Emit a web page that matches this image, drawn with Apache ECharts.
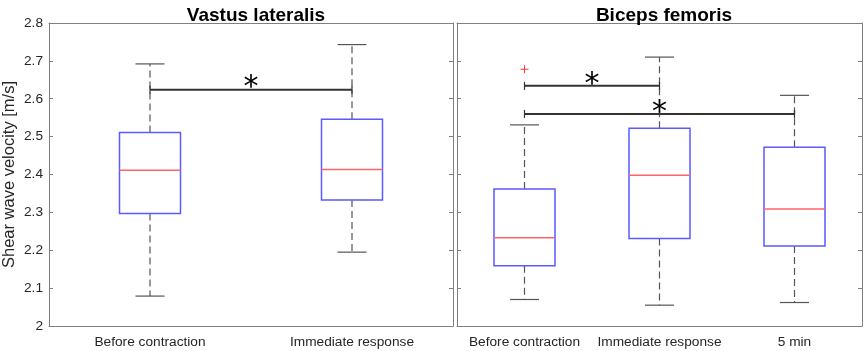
<!DOCTYPE html>
<html>
<head>
<meta charset="utf-8">
<script src="https://cdn.jsdelivr.net/npm/echarts@6/dist/echarts.min.js"></script>
<style>
  html, body { margin: 0; padding: 0; background: #fff; }
  #chart { width: 865px; height: 351px; }
</style>
</head>
<body>
<div id="chart"></div>
<script>
// 数据：最小值, 下四分位, 中位数, 上四分位, 最大值
const vlCategories = ['Before contraction', 'Immediate response'];
const vlBoxes = [
  [2.079, 2.297, 2.411, 2.511, 2.692],
  [2.195, 2.333, 2.413, 2.546, 2.743]
];
const vlSig = [[0, 1, 2.624]];

const bfCategories = ['Before contraction', 'Immediate response', '5 min'];
const bfBoxes = [
  [2.070, 2.159, 2.233, 2.362, 2.531],
  [2.055, 2.231, 2.398, 2.522, 2.710],
  [2.062, 2.211, 2.309, 2.472, 2.609]
];
const bfOutliers = [[0, 2.678]];
const bfSig = [[0, 1, 2.634], [0, 2, 2.560]];

const yMin = 2;
const yMax = 2.8;
const yStep = 0.1;

const axisColor = '#808080';
const textColor = '#262626';
const boxHalf = 30.5;
const capHalf = 14.5;

const chart = echarts.init(document.getElementById('chart'));

// 箱线图：蓝色箱体、红色中位线、灰色虚线须
function renderBox(params, api) {
  const cat = api.value(0);
  const x = api.coord([cat, api.value(3)])[0];
  const yLo = api.coord([cat, api.value(1)])[1];
  const yQ1 = api.coord([cat, api.value(2)])[1];
  const yMed = api.coord([cat, api.value(3)])[1];
  const yQ3 = api.coord([cat, api.value(4)])[1];
  const yHi = api.coord([cat, api.value(5)])[1];
  const whisker = {stroke: '#555', lineWidth: 1.2, lineDash: [7, 4]};
  const cap = {stroke: '#555', lineWidth: 1.2};
  return {
    type: 'group',
    children: [
      {type: 'line', shape: {x1: x, y1: yQ3, x2: x, y2: yHi}, style: whisker},
      {type: 'line', shape: {x1: x, y1: yQ1, x2: x, y2: yLo}, style: whisker},
      {type: 'line', shape: {x1: x - capHalf, y1: yHi, x2: x + capHalf, y2: yHi}, style: cap},
      {type: 'line', shape: {x1: x - capHalf, y1: yLo, x2: x + capHalf, y2: yLo}, style: cap},
      {type: 'rect', shape: {x: x - boxHalf, y: yQ3, width: boxHalf * 2, height: yQ1 - yQ3},
        style: {fill: '#fff', stroke: '#5a5aff', lineWidth: 1.5}},
      {type: 'line', shape: {x1: x - boxHalf, y1: yMed, x2: x + boxHalf, y2: yMed},
        style: {stroke: '#ff6464', lineWidth: 1.5}}
    ]
  };
}

// 显著性标记
function renderSig(params, api) {
  const y = api.coord([api.value(0), api.value(2)])[1];
  const x1 = api.coord([api.value(0), api.value(2)])[0];
  const x2 = api.coord([api.value(1), api.value(2)])[0];
  const st = {stroke: '#333', lineWidth: 2};
  return {
    type: 'group',
    children: [
      {type: 'line', shape: {x1: x1, y1: y, x2: x2, y2: y}, style: st},
      {type: 'line', shape: {x1: x1, y1: y - 4, x2: x1, y2: y + 4}, style: {stroke: '#333', lineWidth: 1.2}},
      {type: 'line', shape: {x1: x2, y1: y - 4, x2: x2, y2: y + 4}, style: {stroke: '#333', lineWidth: 1.2}},
      {type: 'text', x: (x1 + x2) / 2, y: y - 1,
        style: {text: '*', fontSize: 30, fontFamily: 'DejaVu Sans', fill: '#000',
          align: 'center', verticalAlign: 'middle'}}
    ]
  };
}

function renderOutlier(params, api) {
  const p = api.coord([api.value(0), api.value(1)]);
  const s = {stroke: '#ff3030', lineWidth: 1};
  return {
    type: 'group',
    children: [
      {type: 'line', shape: {x1: p[0] - 4, y1: p[1], x2: p[0] + 4, y2: p[1]}, style: s},
      {type: 'line', shape: {x1: p[0], y1: p[1] - 4, x2: p[0], y2: p[1] + 4}, style: s}
    ]
  };
}

function xAxes(gridIndex, cats) {
  return [
    {
      type: 'category', gridIndex: gridIndex, data: cats, position: 'bottom',
      axisLine: {show: true, lineStyle: {color: axisColor}},
      axisTick: {inside: true, length: 4, alignWithLabel: true, lineStyle: {color: axisColor}},
      axisLabel: {color: textColor, fontSize: 13.7, fontFamily: 'Liberation Sans', margin: 9,
        interval: 0, hideOverlap: false},
      splitLine: {show: false}
    },
    {
      type: 'category', gridIndex: gridIndex, data: cats, position: 'top',
      axisLine: {show: true, lineStyle: {color: axisColor}},
      axisTick: {inside: true, length: 4, alignWithLabel: true, lineStyle: {color: axisColor}},
      axisLabel: {show: false},
      splitLine: {show: false}
    }
  ];
}

function yAxes(gridIndex, showLabels) {
  return [
    {
      type: 'value', gridIndex: gridIndex, min: yMin, max: yMax, interval: yStep, position: 'left',
      name: showLabels ? 'Shear wave velocity [m/s]' : '',
      nameLocation: 'middle', nameGap: 31,
      nameTextStyle: {color: textColor, fontSize: 16.5, fontFamily: 'Liberation Sans'},
      axisLine: {show: true, lineStyle: {color: axisColor}},
      axisTick: {show: true, inside: true, length: 4, lineStyle: {color: axisColor}},
      axisLabel: {show: showLabels, color: textColor, fontSize: 13.7, fontFamily: 'Liberation Sans', margin: 6},
      splitLine: {show: false}
    },
    {
      type: 'value', gridIndex: gridIndex, min: yMin, max: yMax, interval: yStep, position: 'right',
      axisLine: {show: true, lineStyle: {color: axisColor}},
      axisTick: {show: true, inside: true, length: 4, lineStyle: {color: axisColor}},
      axisLabel: {show: false},
      splitLine: {show: false}
    }
  ];
}

const option = {
  backgroundColor: '#fff',
  animation: false,
  title: [
    {text: 'Vastus lateralis', left: 251, top: 1, textAlign: 'center',
      textStyle: {fontSize: 19, fontWeight: 'bold', color: '#000', fontFamily: 'Liberation Sans'}},
    {text: 'Biceps femoris', left: 659, top: 1, textAlign: 'center',
      textStyle: {fontSize: 19, fontWeight: 'bold', color: '#000', fontFamily: 'Liberation Sans'}}
  ],
  grid: [
    {left: 48, top: 23, width: 405, height: 303},
    {left: 457, top: 23, width: 405, height: 303}
  ],
  xAxis: [].concat(xAxes(0, vlCategories), xAxes(1, bfCategories)),
  yAxis: [].concat(yAxes(0, true), yAxes(1, false)),
  series: [
    {
      type: 'custom', xAxisIndex: 0, yAxisIndex: 0,
      data: vlBoxes.map((b, i) => [i].concat(b)),
      encode: {x: 0, y: [1, 2, 3, 4, 5]},
      renderItem: renderBox
    },
    {
      type: 'custom', xAxisIndex: 0, yAxisIndex: 0,
      data: vlSig, encode: {x: [0, 1], y: 2},
      renderItem: renderSig
    },
    {
      type: 'custom', xAxisIndex: 2, yAxisIndex: 2,
      data: bfBoxes.map((b, i) => [i].concat(b)),
      encode: {x: 0, y: [1, 2, 3, 4, 5]},
      renderItem: renderBox
    },
    {
      type: 'custom', xAxisIndex: 2, yAxisIndex: 2,
      data: bfOutliers, encode: {x: 0, y: 1},
      renderItem: renderOutlier
    },
    {
      type: 'custom', xAxisIndex: 2, yAxisIndex: 2,
      data: bfSig, encode: {x: [0, 1], y: 2},
      renderItem: renderSig
    }
  ]
};

chart.setOption(option);
</script>
</body>
</html>
